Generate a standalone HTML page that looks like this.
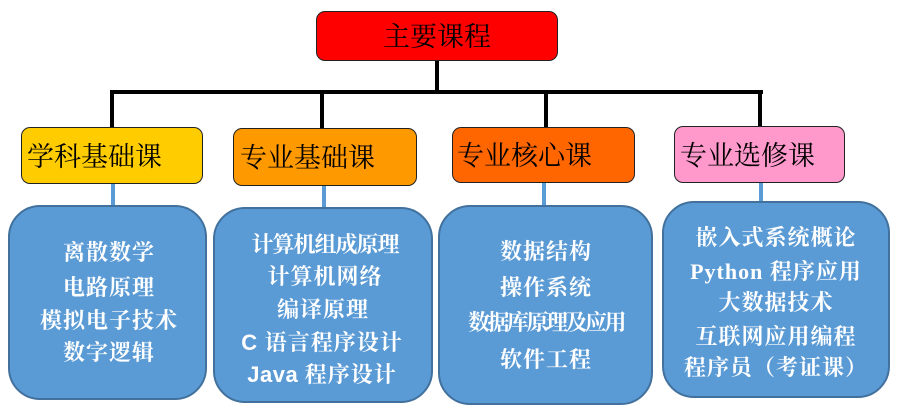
<!DOCTYPE html>
<html>
<head>
<meta charset="utf-8">
<style>
  html, body { margin:0; padding:0; background:#fff; }
  body { width:900px; height:416px; position:relative; overflow:hidden; }
  .abs { position:absolute; box-sizing:border-box; }
  .line { position:absolute; background:#000; }
  .bline { position:absolute; background:#5b9bd5; }
  .cat { position:absolute; box-sizing:border-box; border:1.5px solid #222; border-radius:9px;
         font-family:"Liberation Serif","Noto Serif CJK SC",serif; font-size:27px; color:#000;
         line-height:27px; }
  .cat span { position:absolute; top:50%; margin-top:-12px; }
  .blue { position:absolute; box-sizing:border-box; background:#5b9bd5; border:2px solid #41719c; border-radius:32px; }
  .t { position:absolute; width:300px; text-align:center; color:#fff; font-weight:bold;
       font-family:"Liberation Serif","Noto Serif CJK SC",serif; font-size:22px; line-height:26px;
       letter-spacing:1px; white-space:nowrap; }
</style>
</head>
<body>
  <!-- black connectors -->
  <div class="line" style="left:435px;top:60px;width:4px;height:32px;"></div>
  <div class="line" style="left:110px;top:90px;width:653px;height:4px;"></div>
  <div class="line" style="left:110px;top:90px;width:4px;height:38px;"></div>
  <div class="line" style="left:320px;top:90px;width:4px;height:39px;"></div>
  <div class="line" style="left:544px;top:90px;width:4px;height:38px;"></div>
  <div class="line" style="left:758px;top:90px;width:4px;height:37px;"></div>

  <!-- blue connectors -->
  <div class="bline" style="left:111px;top:183px;width:4px;height:24px;"></div>
  <div class="bline" style="left:322px;top:185px;width:4px;height:24px;"></div>
  <div class="bline" style="left:542px;top:182px;width:4px;height:25px;"></div>
  <div class="bline" style="left:759px;top:182px;width:4px;height:21px;"></div>

  <!-- top box -->
  <div class="cat" style="left:316px;top:11px;width:242px;height:50px;background:#ff0000;text-align:center;">
    <span style="left:0;right:0;">主要课程</span>
  </div>

  <!-- category boxes -->
  <div class="cat" style="left:21px;top:127px;width:182px;height:57px;background:#ffcc00;">
    <span style="left:5px;">学科基础课</span>
  </div>
  <div class="cat" style="left:233px;top:128px;width:184px;height:58px;background:#ff9900;">
    <span style="left:6px;">专业基础课</span>
  </div>
  <div class="cat" style="left:452px;top:127px;width:183px;height:56px;background:#ff6600;">
    <span style="left:4px;">专业核心课</span>
  </div>
  <div class="cat" style="left:674px;top:126px;width:171px;height:57px;background:#ff99cc;">
    <span style="left:5px;">专业选修课</span>
  </div>

  <!-- blue boxes -->
  <div class="blue" style="left:8px;top:205px;width:199px;height:195px;"></div>
  <div class="blue" style="left:213px;top:207px;width:220px;height:196px;"></div>
  <div class="blue" style="left:438px;top:205px;width:215px;height:200px;"></div>
  <div class="blue" style="left:662px;top:201px;width:228px;height:197px;"></div>

  <!-- box A text -->
  <div class="t" style="left:-41px;top:240px;">离散数学</div>
  <div class="t" style="left:-41px;top:275px;">电路原理</div>
  <div class="t" style="left:-41px;top:308px;">模拟电子技术</div>
  <div class="t" style="left:-41px;top:340px;">数字逻辑</div>

  <!-- box B text -->
  <div class="t" style="left:175px;top:232px;letter-spacing:-1px;">计算机组成原理</div>
  <div class="t" style="left:175px;top:264px;">计算机网络</div>
  <div class="t" style="left:173px;top:297px;">编译原理</div>
  <div class="t" style="left:172px;top:330px;"><span style="font-family:'Liberation Sans',sans-serif;">C</span> 语言程序设计</div>
  <div class="t" style="left:172px;top:362px;"><span style="font-family:'Liberation Sans',sans-serif;letter-spacing:0.5px;">Java</span> 程序设计</div>

  <!-- box C text -->
  <div class="t" style="left:396px;top:239px;">数据结构</div>
  <div class="t" style="left:396px;top:275px;">操作系统</div>
  <div class="t" style="left:396px;top:310px;letter-spacing:-2.5px;">数据库原理及应用</div>
  <div class="t" style="left:396px;top:347px;">软件工程</div>

  <!-- box D text -->
  <div class="t" style="left:626px;top:225px;">嵌入式系统概论</div>
  <div class="t" style="left:626px;top:259px;"><span style="letter-spacing:1px;">Python</span> 程序应用</div>
  <div class="t" style="left:626px;top:290px;">大数据技术</div>
  <div class="t" style="left:626px;top:324px;">互联网应用编程</div>
  <div class="t" style="left:626px;top:355px;">程序员（考证课）</div>
</body>
</html>
